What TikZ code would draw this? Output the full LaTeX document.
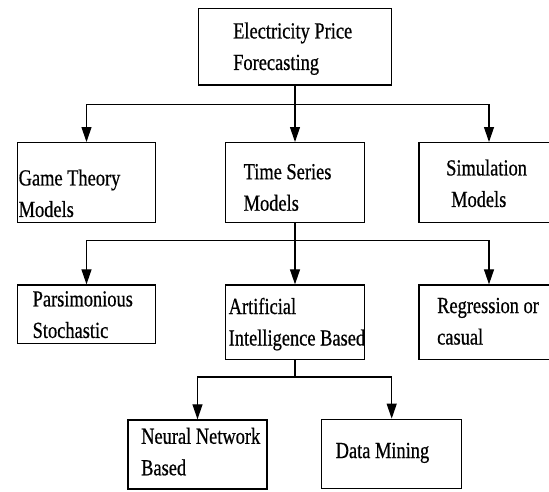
\documentclass[tikz,border=0pt]{standalone}
\usepackage{fontspec}
\setmainfont{Liberation Serif}[FakeStretch=0.8, FakeBold=0.6]
\usetikzlibrary{arrows.meta}

\begin{document}
\begin{tikzpicture}[x=1pt, y=-1pt,
    box/.style={draw, line width=1.4pt, inner sep=0pt,
      minimum width=138.5pt, minimum height=80pt},
    lbl/.style={anchor=north west, inner sep=0pt, align=left,
      font=\fontsize{23}{31.5}\selectfont},
    arr/.style={-{Triangle[width=10pt, length=15pt]}, line width=1.2pt}]

  \clip (0,0) rectangle (549,491);

  % root
  \node[box, minimum width=193.4pt, minimum height=76.7pt] (epf) at (295,46.7) {};
  \node[lbl] (epf-t) at (233,22.3) {Electricity Price\\Forecasting};

  % second level (the right hand boxes run off the page)
  \node[box] (gt) at (86.5,182.7) {};
  \node[box] (ts) at (295,182.7) {};
  \node[box, minimum width=140pt] (sim) at (489,182.7) {};
  \node[lbl] (gt-t) at (18.5,169.3) {Game Theory\\Models};
  \node[lbl] (ts-t) at (243.5,163.8) {Time Series\\Models};
  \node[lbl] (sim-t) at (446,159.3) {Simulation\\\hspace*{5pt}Models};

  % third level
  \node[box, minimum height=58.3pt] (pars) at (86.5,314.2) {};
  \node[box, minimum height=74.3pt] (ai) at (295,322.2) {};
  \node[box, minimum width=140pt, minimum height=74.3pt] (reg) at (489,322.2) {};
  \node[lbl] (pars-t) at (32.5,291) {Parsimonious\\Stochastic};
  \node[lbl] (ai-t) at (228.5,297.6) {Artificial\\Intelligence Based};
  \node[lbl] (reg-t) at (437,297.6) {Regression or\\casual};

  % fourth level
  \node[box, minimum width=139pt, minimum height=69pt] (nn) at (197.5,454.5) {};
  \node[box, minimum width=140pt, minimum height=69pt] (dm) at (391.7,453.8) {};
  \node[lbl] (nn-t) at (141,427.6) {Neural Network\\Based};
  \node[lbl] (dm-t) at (335.5,442.6) {Data Mining};

  % branch lines
  \coordinate (bar1) at (295,104.3);
  \coordinate (bar2) at (295,240.5);
  \coordinate (bar3) at (295,377);

  \draw[arr] (epf.south) -- (bar1) -| (gt.north);
  \draw[arr] (epf.south) -- (ts.north);
  \draw[arr] (bar1) -| (sim.north);

  \draw[arr] (ts.south) -- (bar2) -| (pars.north);
  \draw[arr] (ts.south) -- (ai.north);
  \draw[arr] (bar2) -| (reg.north);

  \draw[arr] (ai.south) -- (bar3) -| (nn.north);
  \draw[arr] (bar3) -| (dm.north);
\end{tikzpicture}
\end{document}
